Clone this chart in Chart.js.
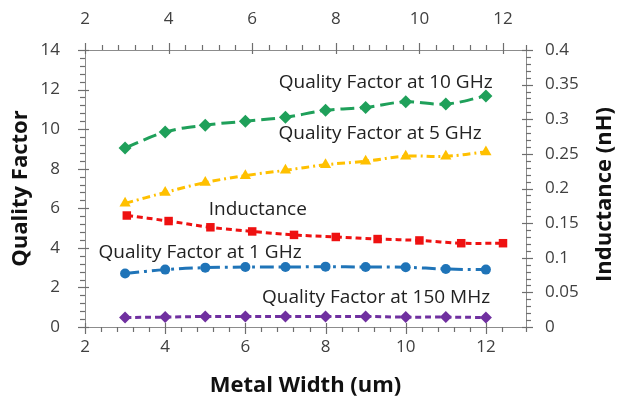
<!DOCTYPE html>
<html>
<head>
<meta charset="utf-8">
<script src="https://cdn.jsdelivr.net/npm/chart.js@4.4.1/dist/chart.umd.min.js"></script>
<style>
  html, body { margin: 0; padding: 0; background: #ffffff; }
  #wrap { width: 623px; height: 404px; }
</style>
</head>
<body>
<div id="wrap"><canvas id="qfChart" width="623" height="404"></canvas></div>
<script>
// metal width (um) for each measured point
const widths = [3, 4, 5, 6, 7, 8, 9, 10, 11, 12];

// quality factor values, left axis
const qf10GHz = [9.05, 9.85, 10.2, 10.4, 10.6, 10.95, 11.1, 11.38, 11.27, 11.68];
const qf5GHz = [6.25, 6.8, 7.3, 7.65, 7.92, 8.2, 8.38, 8.63, 8.63, 8.85];
const qf1GHz = [2.7, 2.9, 3.0, 3.03, 3.03, 3.05, 3.03, 3.02, 2.93, 2.9];
const qf150MHz = [0.48, 0.5, 0.53, 0.53, 0.53, 0.53, 0.53, 0.5, 0.5, 0.48];

// inductance (nH), right axis / top axis
const inductance = [0.161, 0.153, 0.144, 0.138, 0.133, 0.130, 0.127, 0.125, 0.121, 0.121];

// in-plot series labels, placed in bottom/left axis units
const labelTexts = ['Quality Factor at 10 GHz', 'Quality Factor at 5 GHz', 'Inductance', 'Quality Factor at 1 GHz', 'Quality Factor at 150 MHz'];
const labelX = [9.5, 9.36, 6.31, 4.87, 9.26];
const labelY = [12.33, 9.79, 5.94, 3.75, 1.47];

// major tick spacing per axis (minor ticks come from stepSize)
const majorStep = { x: 2, x2: 2, y: 2, y2: 0.05 };

const FONT = "'Open Sans', 'Liberation Sans', sans-serif";
const AXIS_GRAY = '#8c8c8c';
const TICK_TEXT = '#404040';

const toPoints = (ys) => widths.map((w, i) => ({ x: w, y: ys[i] }));

const isMultiple = (v, step) => Math.abs(v / step - Math.round(v / step)) < 1e-6;

const seriesLabels = {
  id: 'seriesLabels',
  afterDatasetsDraw(chart) {
    const ctx = chart.ctx;
    const xs = chart.scales.x;
    const ys = chart.scales.y;
    ctx.save();
    ctx.font = `19px ${FONT}`;
    ctx.fillStyle = '#222222';
    ctx.textAlign = 'center';
    ctx.textBaseline = 'middle';
    labelTexts.forEach((t, i) => {
      ctx.fillText(t, xs.getPixelForValue(labelX[i]), ys.getPixelForValue(labelY[i]));
    });
    ctx.restore();
  }
};

// excel-like tick marks: majors cross the axis, minors only point outwards
const axisTicks = {
  id: 'axisTicks',
  afterDraw(chart) {
    const ctx = chart.ctx;
    const area = chart.chartArea;
    ctx.save();
    ctx.strokeStyle = '#6e6e6e';
    ctx.lineWidth = 1.2;
    ctx.setLineDash([]);
    Object.keys(majorStep).forEach((id) => {
      const scale = chart.scales[id];
      scale.ticks.forEach((t) => {
        const p = Math.round(scale.getPixelForValue(t.value)) + 0.5;
        const major = isMultiple(t.value, majorStep[id]);
        const out = major ? 7 : 5;
        const inn = major ? 4 : 0;
        ctx.beginPath();
        if (scale.position === 'bottom') {
          ctx.moveTo(p, area.bottom - inn); ctx.lineTo(p, area.bottom + out);
        } else if (scale.position === 'top') {
          ctx.moveTo(p, area.top + inn); ctx.lineTo(p, area.top - out);
        } else if (scale.position === 'left') {
          ctx.moveTo(area.left + inn, p); ctx.lineTo(area.left - out, p);
        } else {
          ctx.moveTo(area.right - inn, p); ctx.lineTo(area.right + out, p);
        }
        ctx.stroke();
      });
    });
    ctx.restore();
  }
};

const rightTitle = {
  id: 'rightTitle',
  afterDraw(chart) {
    const ctx = chart.ctx;
    const area = chart.chartArea;
    ctx.save();
    ctx.translate(605, (area.top + area.bottom) / 2 + 6);
    ctx.rotate(-Math.PI / 2);
    ctx.font = `bold 22px ${FONT}`;
    ctx.fillStyle = '#111111';
    ctx.textAlign = 'center';
    ctx.textBaseline = 'middle';
    ctx.fillText('Inductance (nH)', 0, 0);
    ctx.restore();
  }
};

const noGrid = { display: false, drawTicks: false };

const tickFont = { family: FONT, size: 17 };

const lineStyle = (color, dash, marker, radius) => ({
  borderColor: color,
  backgroundColor: color,
  borderWidth: 3,
  borderDash: dash,
  pointStyle: marker,
  pointRadius: radius,
  pointBorderWidth: 0,
  pointBackgroundColor: color,
  tension: 0.4,
  fill: false
});

new Chart(document.getElementById('qfChart'), {
  type: 'line',
  data: {
    datasets: [
      { label: 'Quality Factor at 10 GHz', data: toPoints(qf10GHz), xAxisID: 'x', yAxisID: 'y',
        ...lineStyle('#1fa05a', [14, 6], 'rectRot', 6.5) },
      { label: 'Quality Factor at 5 GHz', data: toPoints(qf5GHz), xAxisID: 'x', yAxisID: 'y',
        ...lineStyle('#ffc000', [8, 4, 2, 4], 'triangle', 6.5) },
      { label: 'Inductance', data: toPoints(inductance), xAxisID: 'x2', yAxisID: 'y2',
        ...lineStyle('#ee1111', [6, 4], 'rect', 6) },
      { label: 'Quality Factor at 1 GHz', data: toPoints(qf1GHz), xAxisID: 'x', yAxisID: 'y',
        ...lineStyle('#1f74b8', [14, 5, 3, 5], 'circle', 5) },
      { label: 'Quality Factor at 150 MHz', data: toPoints(qf150MHz), xAxisID: 'x', yAxisID: 'y',
        ...lineStyle('#7030a0', [6, 4], 'rectRot', 6) }
    ]
  },
  options: {
    responsive: false,
    animation: false,
    layout: { padding: 0 },
    plugins: {
      legend: { display: false },
      tooltip: { enabled: false }
    },
    scales: {
      x: {
        type: 'linear',
        position: 'bottom',
        min: 2,
        max: 13,
        afterFit: (s) => { s.height = 77; },
        grid: noGrid,
        border: { display: true, color: AXIS_GRAY, width: 1 },
        ticks: {
          stepSize: 0.4,
          autoSkip: false,
          maxRotation: 0,
          padding: 10,
          color: TICK_TEXT,
          font: tickFont,
          callback: (v) => (isMultiple(v, 2) && v <= 12 ? String(Math.round(v)) : '')
        },
        title: {
          display: true,
          text: 'Metal Width (um)',
          color: '#111111',
          font: { family: FONT, size: 22, weight: 'bold' },
          padding: { top: 0, bottom: 5 }
        }
      },
      x2: {
        type: 'linear',
        position: 'top',
        min: 2,
        max: 12.55,
        afterFit: (s) => { s.height = 50; },
        grid: noGrid,
        border: { display: true, color: AXIS_GRAY, width: 1 },
        ticks: {
          stepSize: 0.4,
          autoSkip: false,
          maxRotation: 0,
          padding: 21,
          color: TICK_TEXT,
          font: tickFont,
          callback: (v) => (isMultiple(v, 2) && v <= 12 ? String(Math.round(v)) : '')
        }
      },
      y: {
        type: 'linear',
        position: 'left',
        min: 0,
        max: 14,
        afterFit: (s) => { s.width = 85; },
        grid: noGrid,
        border: { display: true, color: AXIS_GRAY, width: 1 },
        ticks: {
          stepSize: 0.4,
          autoSkip: false,
          padding: 25,
          color: TICK_TEXT,
          font: tickFont,
          callback: (v) => (isMultiple(v, 2) ? String(Math.round(v)) : '')
        },
        title: {
          display: true,
          text: 'Quality Factor',
          color: '#111111',
          font: { family: FONT, size: 22, weight: 'bold' },
          padding: { top: 8, bottom: 0 }
        }
      },
      y2: {
        type: 'linear',
        position: 'right',
        min: 0,
        max: 0.4,
        afterFit: (s) => { s.width = 97; },
        grid: noGrid,
        border: { display: true, color: AXIS_GRAY, width: 1 },
        ticks: {
          stepSize: 0.01,
          autoSkip: false,
          padding: 19,
          color: TICK_TEXT,
          font: tickFont,
          callback: (v) => (isMultiple(v, 0.05) ? String(parseFloat(v.toFixed(2))) : '')
        }
      }
    }
  },
  plugins: [seriesLabels, axisTicks, rightTitle]
});
</script>
</body>
</html>
